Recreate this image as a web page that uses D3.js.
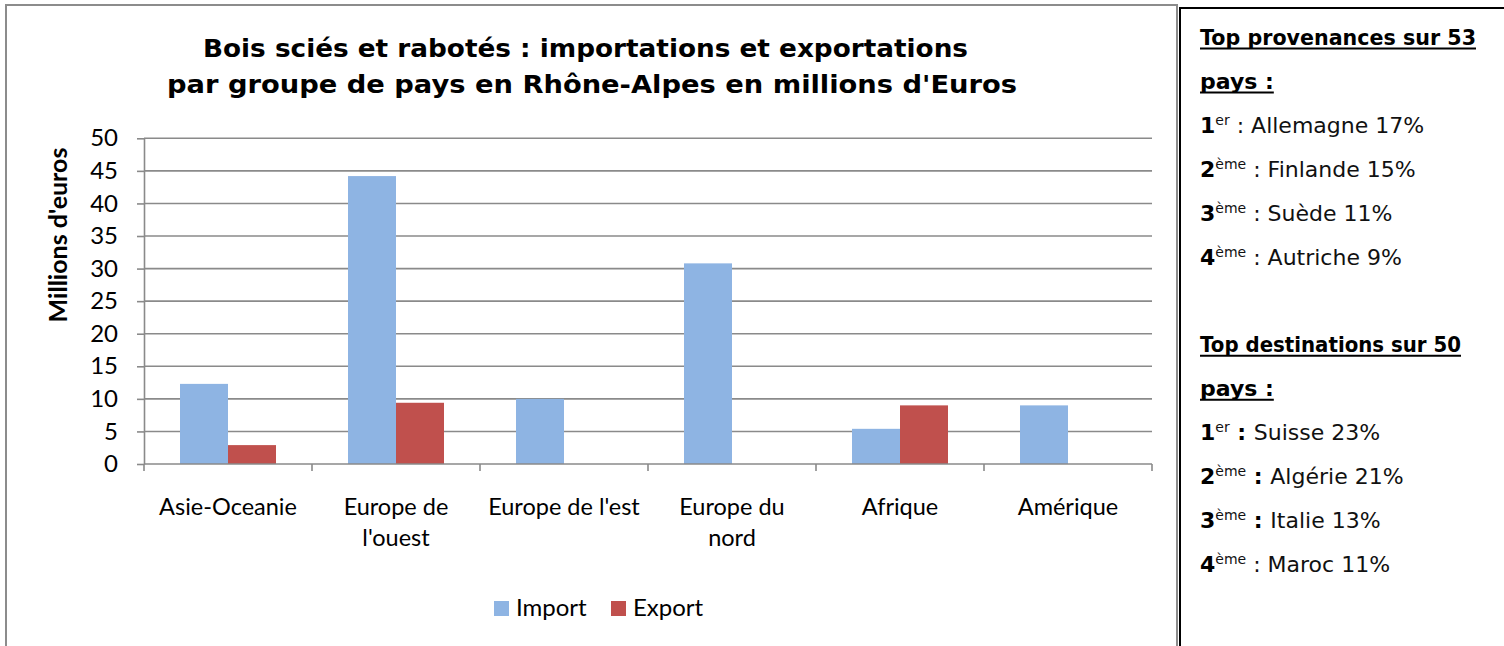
<!DOCTYPE html>
<html>
<head>
<meta charset="utf-8">
<script src="https://cdn.jsdelivr.net/npm/d3@7"></script>
<style>
  body { margin: 0; background: #fff; }
  svg { display: block; }
</style>
</head>
<body>
<div id="chart"></div>
<script>
const width = 1504
const height = 646

// données (millions d'euros)
const categories = ["Asie-Oceanie", "Europe de l'ouest", "Europe de l'est", "Europe du nord", "Afrique", "Amérique"]
const catLines = [["Asie-Oceanie"], ["Europe de", "l'ouest"], ["Europe de l'est"], ["Europe du", "nord"], ["Afrique"], ["Amérique"]]
const series = ["Import", "Export"]
const importVals = [12.3, 44.2, 10.0, 30.8, 5.4, 9.0]
const exportVals = [2.9, 9.4, 0, 0, 9.0, 0]
const yTicks = [0, 5, 10, 15, 20, 25, 30, 35, 40, 45, 50]
const colors = ["#8EB4E3", "#C0504D"]

const titleLines = ["Bois sciés et rabotés : importations et exportations",
                    "par groupe de pays en Rhône-Alpes en millions d'Euros"]

// encadré de droite
const provHead = ["Top provenances sur 53", "pays :"]
const provCountries = ["Allemagne", "Finlande", "Suède", "Autriche"]
const provShares = [17, 15, 11, 9]
const destHead = ["Top destinations sur 50", "pays :"]
const destCountries = ["Suisse", "Algérie", "Italie", "Maroc"]
const destShares = [23, 21, 13, 11]
const destBoldColon = [true, true, true, false]
const ranks = ["1", "2", "3", "4"]
const suffixes = ["er", "ème", "ème", "ème"]

const margin = {top: 138.3, left: 144, right: 352, bottom: 182}

const svg = d3.select('#chart').append('svg').attr('width', width).attr('height', height)

// cadres
svg.append('rect').attr('x', 6).attr('y', 5).attr('width', 1171).attr('height', 700)
    .attr('fill', 'none').attr('stroke', '#8c8c8c').attr('stroke-width', 2)
svg.append('path').attr('d', `M1180,${height + 5} V8 H${width + 5}`)
    .attr('fill', 'none').attr('stroke', '#000').attr('stroke-width', 2)

// échelles
const x0 = d3.scaleBand().domain(categories).range([margin.left, width - margin.right])
const x1 = d3.scaleBand().domain(series).range([36, 132])
const y = d3.scaleLinear().domain([0, 50]).range([height - margin.bottom, margin.top])

const axisFont = "Lato, 'Open Sans', sans-serif"

// grille
svg.append('g').selectAll('line').data(yTicks.filter(d => d > 0)).enter().append('line')
    .attr('x1', x0.range()[0]).attr('x2', x0.range()[1])
    .attr('y1', d => y(d)).attr('y2', d => y(d))
    .attr('stroke', '#8a8a8a').attr('stroke-width', 1.6)

// barres
const groups = svg.append('g').selectAll('g').data(categories).enter().append('g')
    .attr('transform', d => `translate(${x0(d)},0)`)
groups.selectAll('rect')
    .data((d, i) => [{s: "Import", v: importVals[i]}, {s: "Export", v: exportVals[i]}])
    .enter().append('rect')
    .attr('x', d => x1(d.s))
    .attr('width', x1.bandwidth())
    .attr('y', d => y(d.v))
    .attr('height', d => y(0) - y(d.v))
    .attr('fill', (d, i) => colors[i])

// axe y
const yAxisGroup = svg.append('g').attr('transform', `translate(${margin.left},0)`)
yAxisGroup.call(d3.axisLeft(y).tickValues(yTicks).tickSize(7).tickPadding(19).tickSizeOuter(0))
yAxisGroup.select('.domain').attr('stroke', '#8a8a8a').attr('stroke-width', 1.6)
yAxisGroup.selectAll('.tick line').attr('stroke', '#8a8a8a').attr('stroke-width', 1.6)
yAxisGroup.selectAll('.tick text').attr('font-family', axisFont).attr('font-size', 24).attr('fill', '#000')

// axe x
const xAxisGroup = svg.append('g')
xAxisGroup.append('line')
    .attr('x1', x0.range()[0]).attr('x2', x0.range()[1])
    .attr('y1', y(0)).attr('y2', y(0))
    .attr('stroke', '#8a8a8a').attr('stroke-width', 1.6)
xAxisGroup.selectAll('line.tk').data(categories.map(c => x0(c)).concat([x0.range()[1]])).enter()
    .append('line').attr('class', 'tk')
    .attr('x1', d => d).attr('x2', d => d)
    .attr('y1', y(0)).attr('y2', y(0) + 7)
    .attr('stroke', '#8a8a8a').attr('stroke-width', 1.6)
const catText = xAxisGroup.selectAll('text').data(categories).enter().append('text')
    .attr('x', d => x0(d) + x0.bandwidth() / 2)
    .attr('y', y(0) + 51)
    .attr('text-anchor', 'middle')
    .attr('font-family', axisFont).attr('font-size', 23.5).attr('fill', '#000')
catText.selectAll('tspan').data((d, i) => catLines[i]).enter().append('tspan')
    .attr('x', function() { return this.parentNode.getAttribute('x') })
    .attr('dy', (d, i) => i === 0 ? 0 : 31)
    .text(d => d)

// titre de l'axe y
svg.append('text')
    .attr('transform', 'translate(67,235) rotate(-90)')
    .attr('text-anchor', 'middle')
    .attr('font-family', axisFont).attr('font-size', 25).attr('font-weight', 'bold')
    .text("Millions d'euros")

// titre
const titleFont = "'DejaVu Sans', sans-serif"
svg.selectAll('text.title').data(titleLines).enter().append('text').attr('class', 'title')
    .attr('x', (d, i) => i === 0 ? 203 : 167)
    .attr('y', (d, i) => i === 0 ? 56.7 : 93.3)
    .attr('textLength', (d, i) => i === 0 ? 765 : 850)
    .attr('lengthAdjust', 'spacingAndGlyphs')
    .attr('font-family', titleFont).attr('font-size', 24).attr('font-weight', 'bold')
    .text(d => d)

// légende
const legend = svg.append('g').selectAll('g').data(series).enter().append('g')
    .attr('transform', (d, i) => `translate(${i === 0 ? 494 : 611},601)`)
legend.append('rect').attr('width', 15).attr('height', 15).attr('fill', (d, i) => colors[i])
legend.append('text').attr('x', 22).attr('y', 15)
    .attr('font-family', axisFont).attr('font-size', 24).text(d => d)

// encadré
const panelX = 1200
const lineY = i => 45 + i * 43.9
const panel = svg.append('g').attr('font-family', titleFont).attr('font-size', 22).attr('fill', '#111')

function heading(lines, start, firstWidth) {
    lines.forEach((t, k) => {
        const txt = panel.append('text').attr('x', panelX).attr('y', lineY(start + k))
            .attr('font-weight', 'bold').attr('fill', '#000').text(t)
        if (k === 0) txt.attr('textLength', firstWidth).attr('lengthAdjust', 'spacingAndGlyphs')
        const w = k === 0 ? firstWidth : txt.node().getComputedTextLength()
        panel.append('line').attr('x1', panelX).attr('x2', panelX + w)
            .attr('y1', lineY(start + k) + 3.5).attr('y2', lineY(start + k) + 3.5)
            .attr('stroke', '#000').attr('stroke-width', 2)
    })
}

function items(countries, shares, boldColon, start) {
    countries.forEach((c, i) => {
        const txt = panel.append('text').attr('x', panelX).attr('y', lineY(start + i))
        txt.append('tspan').attr('font-weight', 'bold').attr('fill', '#000').text(ranks[i])
        txt.append('tspan').attr('font-size', 14).attr('dy', -8).text(suffixes[i])
        txt.append('tspan').attr('dy', 8).attr('font-weight', boldColon[i] ? 'bold' : 'normal')
            .attr('fill', boldColon[i] ? '#000' : '#111').text(' : ')
        txt.append('tspan').text(`${c} ${shares[i]}%`)
    })
}

heading(provHead, 0, 276)
items(provCountries, provShares, [false, false, false, false], 2)
heading(destHead, 7, 261)
items(destCountries, destShares, destBoldColon, 9)
</script>
</body>
</html>
